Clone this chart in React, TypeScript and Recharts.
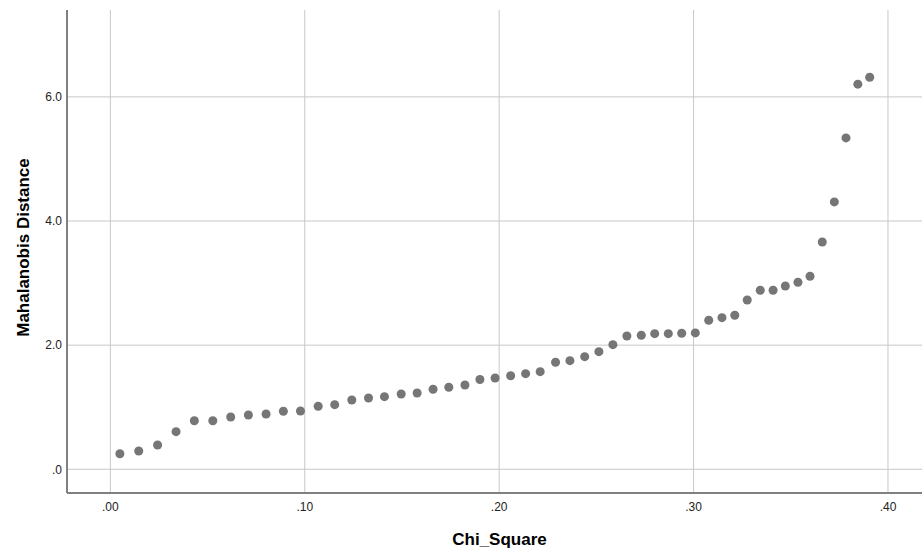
import React from "react";
import { ScatterChart, Scatter, XAxis, YAxis, CartesianGrid } from "recharts";

const chiSquare = [
  0.0049, 0.0146, 0.0243, 0.0338, 0.0432, 0.0527, 0.0619, 0.071, 0.0801, 0.089,
  0.0978, 0.1069, 0.1154, 0.1242, 0.1328, 0.141, 0.1496, 0.1578, 0.166, 0.1741,
  0.1824, 0.1901, 0.1979, 0.2059, 0.2136, 0.2211, 0.229, 0.2364, 0.244, 0.2513,
  0.2585, 0.2657, 0.2731, 0.28, 0.287, 0.2939, 0.3009, 0.3078, 0.3146, 0.3212,
  0.3276, 0.3343, 0.3409, 0.3472, 0.3537, 0.3599, 0.3662, 0.3724, 0.3784, 0.3845,
  0.3906,
];

const mahalanobis = [
  0.251, 0.295, 0.392, 0.606, 0.783, 0.783, 0.843, 0.875, 0.891, 0.935,
  0.94, 1.015, 1.041, 1.117, 1.149, 1.17, 1.214, 1.23, 1.289, 1.322,
  1.359, 1.447, 1.471, 1.508, 1.541, 1.573, 1.724, 1.75, 1.815, 1.895,
  2.008, 2.148, 2.16, 2.185, 2.185, 2.192, 2.197, 2.401, 2.443, 2.482,
  2.728, 2.885, 2.885, 2.954, 3.014, 3.11, 3.663, 4.308, 5.339, 6.205,
  6.317,
];

const xTicks = [0, 0.1, 0.2, 0.3, 0.4];
const yTicks = [0, 2, 4, 6];

const data = chiSquare.map((x, i) => ({ x, y: mahalanobis[i] }));

const fmtX = (v: number) => {
  const s = v.toFixed(2);
  return s.startsWith("0") ? s.slice(1) : s;
};
const fmtY = (v: number) => {
  const s = v.toFixed(1);
  return s.startsWith("0") ? s.slice(1) : s;
};

const font = "'Liberation Sans', Arial, sans-serif";

export default function App() {
  return (
    <div style={{ position: "absolute", left: 0, top: 0, width: 922, height: 549, background: "#fff" }}>
      <ScatterChart
        width={922}
        height={549}
        margin={{ top: 10, right: 0, left: 0, bottom: 0 }}
      >
        <CartesianGrid stroke="#c8c8c8" strokeWidth={1} syncWithTicks />
        <XAxis
          type="number"
          dataKey="x"
          domain={[-0.0223, 0.4175]}
          ticks={xTicks}
          tickFormatter={fmtX}
          allowDataOverflow
          height={56}
          tickLine={false}
          tickSize={7}
          tickMargin={2}
          axisLine={{ stroke: "#808080", strokeWidth: 2 }}
          tick={{ fill: "#222", fontSize: 12, fontFamily: font }}
          label={{
            content: (props: any) => {
              const vb = props.viewBox || {};
              return (
                <text
                  x={vb.x + vb.width / 2 + 5}
                  y={539}
                  textAnchor="middle"
                  dominantBaseline="central"
                  fontFamily={font}
                  fontWeight="bold"
                  fontSize={17}
                  fill="#000"
                >
                  Chi_Square
                </text>
              );
            },
          }}
        />
        <YAxis
          type="number"
          dataKey="y"
          domain={[-0.382, 7.4]}
          ticks={yTicks}
          tickFormatter={fmtY}
          allowDataOverflow
          width={67}
          tickLine={false}
          tickSize={3}
          tickMargin={2}
          axisLine={{ stroke: "#808080", strokeWidth: 2 }}
          tick={{ fill: "#222", fontSize: 12, fontFamily: font }}
          label={{
            content: (props: any) => {
              const vb = props.viewBox || {};
              const cx = 23;
              const cy = vb.y + vb.height / 2 - 4;
              return (
                <text
                  x={cx}
                  y={cy}
                  transform={`rotate(-90 ${cx} ${cy})`}
                  textAnchor="middle"
                  dominantBaseline="central"
                  fontFamily={font}
                  fontWeight="bold"
                  fontSize={17}
                  fill="#000"
                >
                  Mahalanobis Distance
                </text>
              );
            },
          }}
        />
        <Scatter data={data} fill="#767676" isAnimationActive={false} />
      </ScatterChart>
    </div>
  );
}
